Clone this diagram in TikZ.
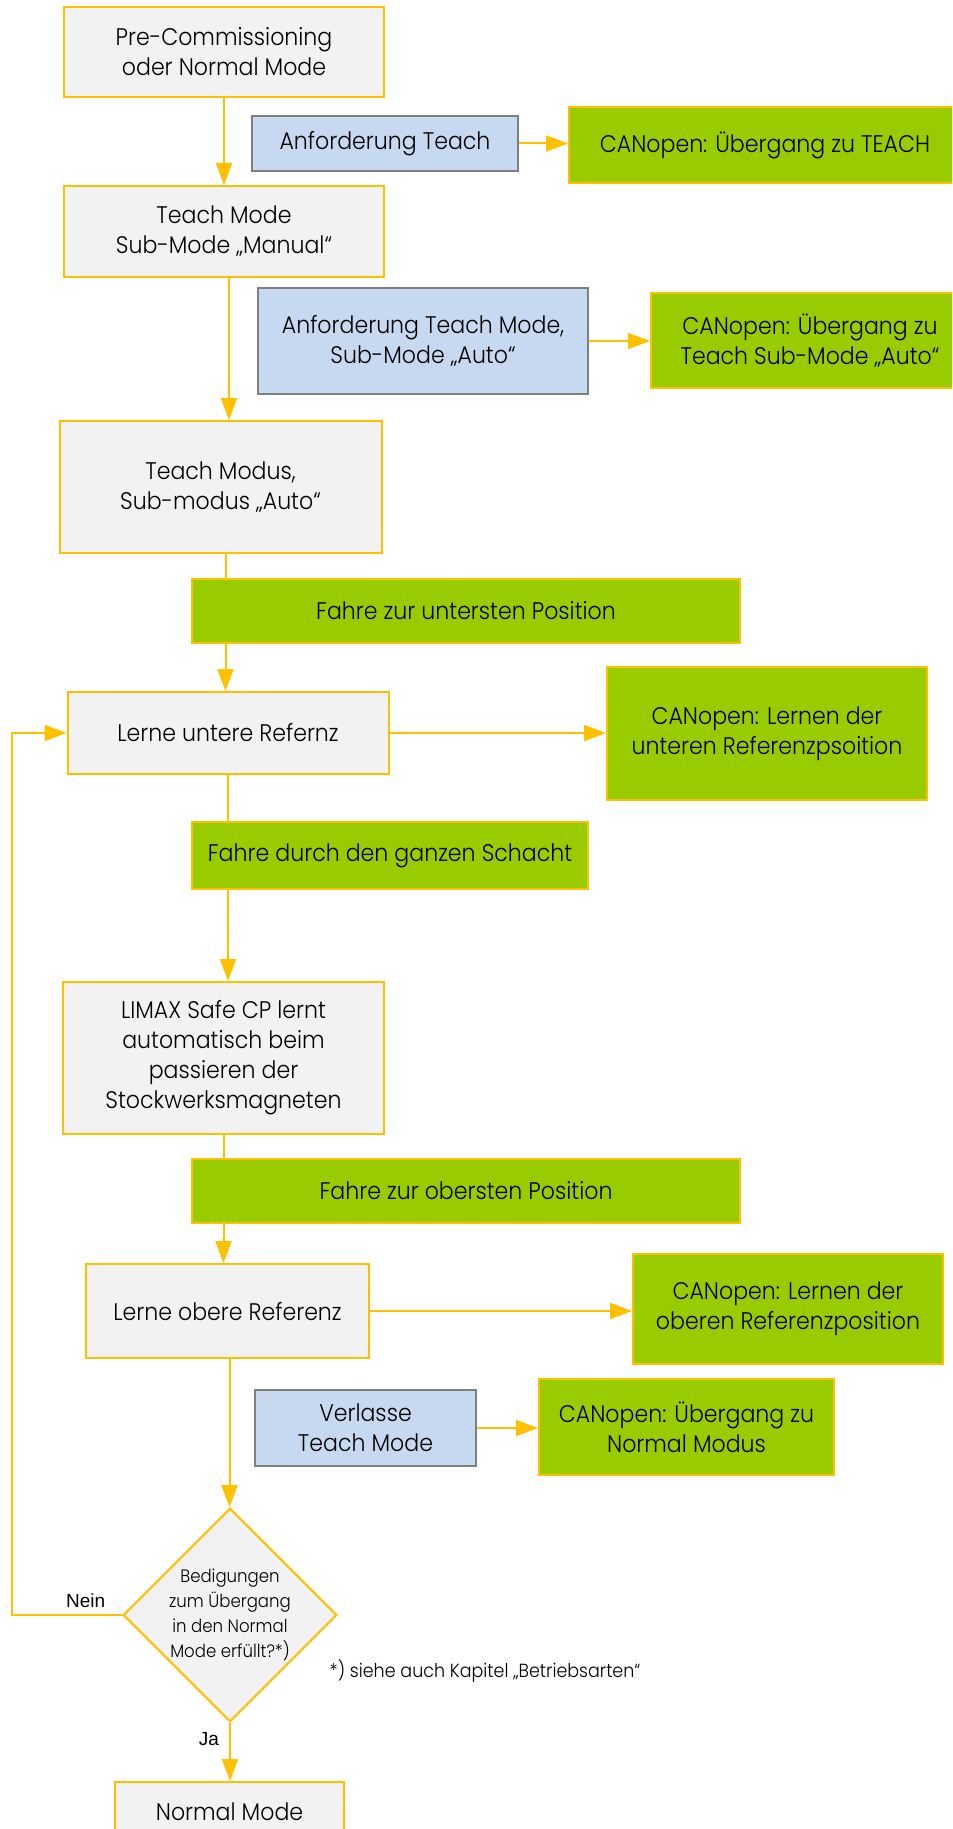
\documentclass[tikz,border=0pt]{standalone}
\usepackage{fontspec}
\setmainfont{Poppins}[UprightFont=* Light, FakeStretch=0.92]
\newfontfamily\labelfont{Liberation Sans}
\usetikzlibrary{arrows.meta,shapes.geometric}
\definecolor{edgeorange}{HTML}{FFC000}
\definecolor{boxgrey}{HTML}{F2F2F2}
\definecolor{reqblue}{HTML}{C6D9F1}
\definecolor{reqedge}{HTML}{7F7F7F}
\definecolor{cangreen}{HTML}{99CC00}
\tikzset{
  dims/.style 2 args={minimum width=#1*0.5pt, minimum height=#2*0.5pt},
  box/.style={rectangle, draw=edgeorange, line width=1pt, inner sep=2pt,
    align=center, font=\fontsize{12}{15}\selectfont},
  state/.style={box, fill=boxgrey},
  request/.style={box, fill=reqblue, draw=reqedge},
  action/.style={box, fill=cangreen},
  decision/.style={diamond, draw=edgeorange, line width=1pt, fill=boxgrey,
    inner sep=0pt, align=center, font=\fontsize{9}{12.5}\selectfont},
  conn/.style={draw=edgeorange, line width=1pt, -{Triangle[length=11pt,width=8pt]}},
  yesno/.style={font=\labelfont\fontsize{9.5}{11}\selectfont, inner sep=1pt}
}
\begin{document}
\begin{tikzpicture}[x=0.5pt,y=-0.5pt]
\useasboundingbox (0,0) rectangle (952,1829);
\clip (0,0) rectangle (952,1829);

% main column
\node[state, dims={320}{90}] (pre) at (224,52) {Pre-Commissioning\\oder Normal Mode};
\node[state, dims={320}{91}] (teach) at (224,231.5) {Teach Mode\\Sub-Mode „Manual“};
\node[state, dims={322}{132}] (modus) at (220.5,487) {Teach Modus,\\Sub-modus „Auto“};
\node[state, dims={321}{82}] (lerneU) at (228,733) {Lerne untere Refernz};
\node[state, dims={321}{152}] (limax) at (223.5,1058) {LIMAX Safe CP lernt\\automatisch beim\\passieren der\\Stockwerksmagneten};
\node[state, dims={283}{94}] (lerneO) at (227.5,1311) {Lerne obere Referenz};
\node[decision, minimum width=106pt, minimum height=106.5pt] (dia) at (230,1615)
  {Bedigungen\\zum Übergang\\in den Normal\\Mode erfüllt?*)};
\node[state, dims={229}{60}] (normal) at (229.5,1812) {Normal Mode};

% requests and CANopen reactions
\node[request, dims={266}{55}] (treq) at (385,143.5) {Anforderung Teach};
\node[action, dims={392}{76}] (tcan) at (765,145) {CANopen: Übergang zu TEACH};
\node[request, dims={330}{106}] (areq) at (423,341) {Anforderung Teach Mode,\\Sub-Mode „Auto“};
\node[action, dims={318}{95}] (acan) at (810,340.5) {CANopen: Übergang zu\\Teach Sub-Mode „Auto“};
\node[action, dims={320}{133}] (canLU) at (767,733.5) {CANopen: Lernen der\\unteren Referenzpsoition};
\node[action, dims={310}{110}] (canLO) at (788,1309) {CANopen: Lernen der\\oberen Referenzposition};
\node[request, dims={221}{76}] (verl) at (365.5,1428) {Verlasse\\Teach Mode};
\node[action, dims={295}{96}] (canNM) at (686.5,1427) {CANopen: Übergang zu\\Normal Modus};

% connectors
\draw[conn] (pre.south) -- (pre.south |- teach.north);
\draw[conn] (treq.east) -- (treq.east -| tcan.west);
\draw[conn] ([xshift=2.5pt]teach.south) -- ([xshift=2.5pt]teach.south |- modus.north);
\draw[conn] (areq.east) -- (areq.east -| acan.west);
\draw[conn] ([xshift=2.5pt]modus.south) -- ([xshift=2.5pt]modus.south |- lerneU.north);
\draw[conn] (lerneU.east) -- (lerneU.east -| canLU.west);
\draw[conn] (lerneU.south) -- (lerneU.south |- limax.north);
\draw[conn] (limax.south) -- (limax.south |- lerneO.north);
\draw[conn] (lerneO.east) -- (lerneO.east -| canLO.west);
\draw[conn] ([xshift=1pt]lerneO.south) -- ([xshift=1pt]lerneO.south |- dia.north);
\draw[conn] (verl.east) -- (verl.east -| canNM.west);
\draw[conn] (dia.south) -- node[yesno, pos=0.28, left=4pt] {Ja} (dia.south |- normal.north);
\coordinate (loop) at (11.7,1615);
\draw[conn] (dia.west) -- node[yesno, pos=0.33, above=2pt] {Nein} (loop) |- (lerneU.west);

% travel steps lying on the main line
\node[action, dims={548}{64}] (down) at (466,611) {Fahre zur untersten Position};
\node[action, dims={396}{67}] (shaft) at (390,855.5) {Fahre durch den ganzen Schacht};
\node[action, dims={548}{64}] (up) at (466,1191) {Fahre zur obersten Position};

% footnote
\node[font=\fontsize{9.5}{11}\selectfont, inner sep=0pt] (note) at (485,1671) {*) siehe auch Kapitel „Betriebsarten“};
\end{tikzpicture}
\end{document}
